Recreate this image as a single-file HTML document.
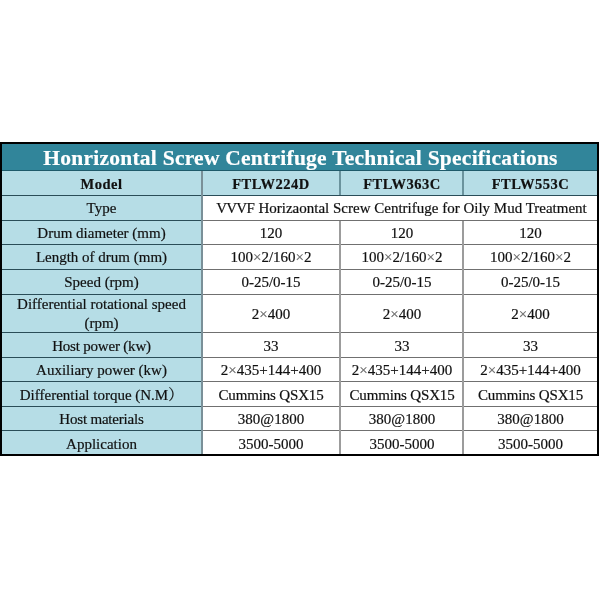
<!DOCTYPE html>
<html><head><meta charset="utf-8">
<style>
html,body{margin:0;padding:0;background:#fff;width:600px;height:600px;overflow:hidden;}
body{position:relative;font-family:"Liberation Serif","Noto Serif CJK SC",serif;color:#111;}
.a{position:absolute;}
.box{position:absolute;left:0;top:142px;width:599px;height:314px;background:#000;}
.hd{position:absolute;left:2px;top:144px;width:595px;height:26px;background:#31859a;}
.lb{background:#b6dde6;}
.wh{background:#fff;}
.hl{position:absolute;height:1px;}
.vl{position:absolute;width:1px;}
.t{will-change:transform;-webkit-text-stroke-width:0.2px;position:absolute;white-space:nowrap;text-align:center;font-size:15px;line-height:1;}
.x{color:#666;}
.b{font-weight:bold;letter-spacing:0.5px;}
</style></head><body>
<div class="box"></div>
<div class="hd"></div>
<!-- backgrounds -->
<div class="a lb" style="left:2px;top:171px;width:595px;height:24px"></div>
<div class="a lb" style="left:2px;top:196px;width:199px;height:258px"></div>
<div class="a wh" style="left:202px;top:196px;width:395px;height:258px"></div>
<!-- horizontal lines -->
<div class="hl" style="left:2px;top:170px;width:595px;background:#1f5a6a"></div>
<div class="hl" style="left:2px;top:195px;width:595px;background:#2a4d58"></div>
<div class="hl" style="left:2px;top:220px;width:199px;background:#2a4d58"></div>
<div class="hl" style="left:201px;top:220px;width:396px;background:#707070"></div>
<div class="hl" style="left:2px;top:244px;width:199px;background:#2a4d58"></div>
<div class="hl" style="left:201px;top:244px;width:396px;background:#707070"></div>
<div class="hl" style="left:2px;top:269px;width:199px;background:#2a4d58"></div>
<div class="hl" style="left:201px;top:269px;width:396px;background:#707070"></div>
<div class="hl" style="left:2px;top:294px;width:199px;background:#2a4d58"></div>
<div class="hl" style="left:201px;top:294px;width:396px;background:#707070"></div>
<div class="hl" style="left:2px;top:332px;width:199px;background:#2a4d58"></div>
<div class="hl" style="left:201px;top:332px;width:396px;background:#707070"></div>
<div class="hl" style="left:2px;top:357px;width:199px;background:#2a4d58"></div>
<div class="hl" style="left:201px;top:357px;width:396px;background:#707070"></div>
<div class="hl" style="left:2px;top:381px;width:199px;background:#2a4d58"></div>
<div class="hl" style="left:201px;top:381px;width:396px;background:#707070"></div>
<div class="hl" style="left:2px;top:406px;width:199px;background:#2a4d58"></div>
<div class="hl" style="left:201px;top:406px;width:396px;background:#707070"></div>
<div class="hl" style="left:2px;top:430px;width:199px;background:#2a4d58"></div>
<div class="hl" style="left:201px;top:430px;width:396px;background:#707070"></div>
<!-- vertical lines -->
<div class="vl" style="left:201px;top:171px;width:2px;height:283px;background:#7a9098"></div>
<div class="vl" style="left:339px;top:171px;width:2px;height:24px;background:#6b939d"></div>
<div class="vl" style="left:462px;top:171px;width:2px;height:24px;background:#6b939d"></div>
<div class="vl" style="left:339px;top:221px;width:2px;height:233px;background:#9c9c9c"></div>
<div class="vl" style="left:462px;top:221px;width:2px;height:233px;background:#9c9c9c"></div>

<!-- title -->
<div class="t b" style="left:3px;width:595px;top:148px;font-size:21.5px;letter-spacing:0.25px;color:#fff">Honrizontal Screw Centrifuge Technical Specifications</div>

<!-- column 1 -->
<div class="t b" style="left:2px;width:199px;top:177px;font-size:14.5px">Model</div>
<div class="t" style="left:2px;width:199px;top:201px">Type</div>
<div class="t" style="left:2px;width:199px;top:226px">Drum diameter (mm)</div>
<div class="t" style="left:2px;width:199px;top:250px">Length of drum (mm)</div>
<div class="t" style="left:2px;width:199px;top:275px">Speed (rpm)</div>
<div class="t" style="left:2px;width:199px;top:295px;line-height:19px">Differential rotational speed<br>(rpm)</div>
<div class="t" style="left:2px;width:199px;top:339px"><span style="letter-spacing:-0.2px">Host power (kw)</span></div>
<div class="t" style="left:2px;width:199px;top:363px">Auxiliary power (kw)</div>
<div class="t" style="left:2px;width:199px;top:388px">Differential torque (N.M）</div>
<div class="t" style="left:2px;width:199px;top:412px"><span style="letter-spacing:-0.2px">Host materials</span></div>
<div class="t" style="left:2px;width:199px;top:437px">Application</div>

<!-- header models -->
<div class="t b" style="left:202px;width:138px;top:177px;font-size:14.5px">FTLW224D</div>
<div class="t b" style="left:341px;width:122px;top:177px;font-size:14.5px">FTLW363C</div>
<div class="t b" style="left:464px;width:133px;top:177px;font-size:14.5px">FTLW553C</div>

<div class="t" style="left:203.5px;width:395px;top:201px"><span style="letter-spacing:-0.8px">VVV</span>F Horizaontal Screw Centrifuge for Oily Mud Treatment</div>

<!-- data cols -->
<div class="t" style="left:202px;width:138px;top:226px">120</div>
<div class="t" style="left:341px;width:122px;top:226px">120</div>
<div class="t" style="left:464px;width:133px;top:226px">120</div>

<div class="t" style="left:202px;width:138px;top:250px">100<span class="x">×</span>2/160<span class="x">×</span>2</div>
<div class="t" style="left:341px;width:122px;top:250px">100<span class="x">×</span>2/160<span class="x">×</span>2</div>
<div class="t" style="left:464px;width:133px;top:250px">100<span class="x">×</span>2/160<span class="x">×</span>2</div>

<div class="t" style="left:202px;width:138px;top:275px">0-25/0-15</div>
<div class="t" style="left:341px;width:122px;top:275px">0-25/0-15</div>
<div class="t" style="left:464px;width:133px;top:275px">0-25/0-15</div>

<div class="t" style="left:202px;width:138px;top:307px">2<span class="x">×</span>400</div>
<div class="t" style="left:341px;width:122px;top:307px">2<span class="x">×</span>400</div>
<div class="t" style="left:464px;width:133px;top:307px">2<span class="x">×</span>400</div>

<div class="t" style="left:202px;width:138px;top:339px">33</div>
<div class="t" style="left:341px;width:122px;top:339px">33</div>
<div class="t" style="left:464px;width:133px;top:339px">33</div>

<div class="t" style="left:202px;width:138px;top:363px">2<span class="x">×</span>435+144+400</div>
<div class="t" style="left:341px;width:122px;top:363px">2<span class="x">×</span>435+144+400</div>
<div class="t" style="left:464px;width:133px;top:363px">2<span class="x">×</span>435+144+400</div>

<div class="t" style="left:202px;width:138px;top:388px"><span style="letter-spacing:-0.15px">Cummins QSX15</span></div>
<div class="t" style="left:341px;width:122px;top:388px"><span style="letter-spacing:-0.15px">Cummins QSX15</span></div>
<div class="t" style="left:464px;width:133px;top:388px"><span style="letter-spacing:-0.15px">Cummins QSX15</span></div>

<div class="t" style="left:202px;width:138px;top:412px">380@1800</div>
<div class="t" style="left:341px;width:122px;top:412px">380@1800</div>
<div class="t" style="left:464px;width:133px;top:412px">380@1800</div>

<div class="t" style="left:202px;width:138px;top:437px">3500-5000</div>
<div class="t" style="left:341px;width:122px;top:437px">3500-5000</div>
<div class="t" style="left:464px;width:133px;top:437px">3500-5000</div>
</body></html>
